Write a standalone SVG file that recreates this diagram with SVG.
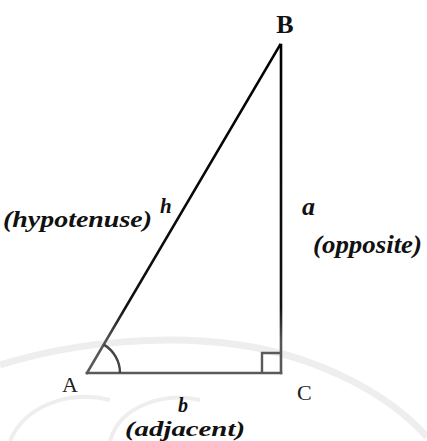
<svg xmlns="http://www.w3.org/2000/svg" width="427" height="441" viewBox="0 0 427 441">
<style>
.side{fill:none;stroke-width:2.6;stroke-linecap:square}
.wm{fill:none;stroke:#eeeeee;stroke-width:7}
.vtx{font-family:"Liberation Serif","Times New Roman",serif;font-size:22px;fill:#222}
.lbl{font-family:"Liberation Serif","Times New Roman",serif;font-size:24px;font-style:italic;font-weight:bold;fill:#111}
</style>
<defs>
<linearGradient id="ink" gradientUnits="userSpaceOnUse" x1="0" y1="45" x2="0" y2="373">
<stop offset="0" stop-color="#000"/>
<stop offset="0.8" stop-color="#111"/>
<stop offset="0.9" stop-color="#555"/>
<stop offset="1" stop-color="#5a5a5a"/>
</linearGradient>
</defs>
<rect width="427" height="441" fill="#fff"/>
<g id="watermark">
<path class="wm" d="M0,365 C80,340 170,335 240,345 C320,357 390,395 427,437"/>
<path class="wm" d="M10,441 C25,405 70,390 110,400" style="stroke-width:4"/>
<path class="wm" d="M110,441 C120,405 165,392 200,400" style="stroke-width:4"/>
</g>
<g id="connectors">
<line class="side" stroke="url(#ink)" x1="87" y1="373" x2="280" y2="45"/>
<line class="side" stroke="url(#ink)" x1="281" y1="45" x2="281" y2="373"/>
<line class="side" stroke="#5a5a5a" x1="87" y1="373" x2="281" y2="373"/>
<path d="M120,373 A33,33 0 0 0 103.8,344.6" fill="none" stroke="#444" stroke-width="2.4"/>
<path d="M262,373 V353 H281" fill="none" stroke="#5a5a5a" stroke-width="2.4"/>
</g>
<g id="node-A"><text class="vtx" x="62" y="392">A</text></g>
<g id="node-B"><text class="vtx" x="285" y="33" text-anchor="middle" style="font-weight:bold;font-size:26px;fill:#111">B</text></g>
<g id="node-C"><text class="vtx" x="297" y="400">C</text></g>
<g id="label-h">
<text class="lbl" x="160" y="213" style="font-size:21px">h</text>
<text class="lbl" x="3" y="227" textLength="149" lengthAdjust="spacingAndGlyphs" style="font-size:23px">(hypotenuse)</text>
</g>
<g id="label-a">
<text class="lbl" x="302" y="215" style="font-size:26px">a</text>
<text class="lbl" x="313" y="253" textLength="109" lengthAdjust="spacingAndGlyphs" style="font-size:25px">(opposite)</text>
</g>
<g id="label-b">
<text class="lbl" x="178" y="412" style="font-size:20px">b</text>
<text class="lbl" x="125" y="436" textLength="120" lengthAdjust="spacingAndGlyphs" style="font-size:22px">(adjacent)</text>
</g>
</svg>
